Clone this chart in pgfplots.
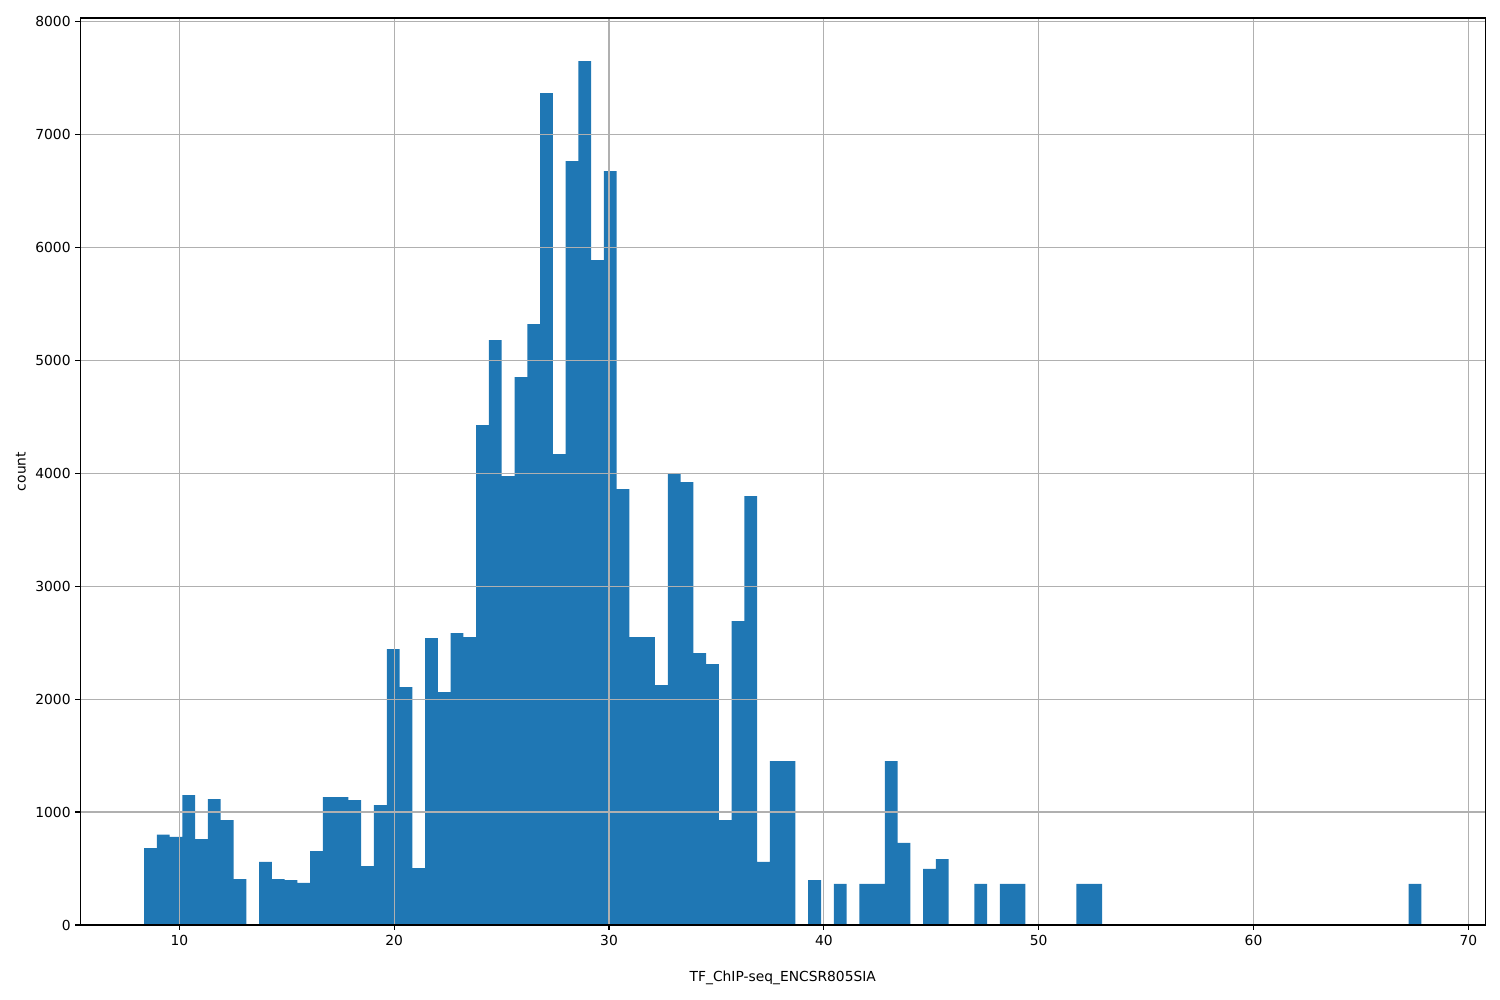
\documentclass[border=0pt]{standalone}
\usepackage{pgfplots}
\pgfplotsset{compat=1.18}
\usepackage{fontspec}
\setmainfont{DejaVu Sans}
\definecolor{mplblue}{HTML}{1F77B4}
\definecolor{gridgray}{HTML}{B0B0B0}
\begin{document}
\begin{tikzpicture}
\path[use as bounding box] (0,0) rectangle (15in,10in);
\begin{axis}[
  at={(0.803in,0.75in)}, anchor=south west,
  scale only axis, width=14.05in, height=9.07in,
  xmin=5.39, xmax=70.79, ymin=0, ymax=8029,
  axis on top,
  xtick={10,20,...,70}, ytick={0,1000,...,8000},
  grid=major, major grid style={gridgray, line width=0.8pt},
  axis line style={line width=0.8pt, black},
  tick style={black, line width=0.8pt},
  major tick length=3.5pt,
  tick align=outside, xtick pos=bottom, ytick pos=left,
  tick label style={font=\fontsize{10}{12}\selectfont},
  label style={font=\fontsize{10}{12}\selectfont},
  xlabel style={yshift=-12pt},
  /pgf/number format/assume math mode=true,
  /pgf/number format/1000 sep={},
  scaled y ticks=false,
  xlabel={TF\_ChIP-seq\_ENCSR805SIA},
  ylabel={count},
]
\addplot[ybar interval, fill=mplblue, draw=none] coordinates {
(8.360,680) (8.955,800) (9.549,779) (10.144,1150) (10.738,761)
(11.333,1115) (11.927,929) (12.522,407) (13.116,0) (13.711,558)
(14.305,407) (14.900,398) (15.494,372) (16.089,655) (16.683,1133)
(17.278,1133) (17.872,1106) (18.467,522) (19.061,1062) (19.656,2442)
(20.250,2106) (20.845,504) (21.439,2540) (22.034,2062) (22.628,2584)
(23.223,2549) (23.817,4425) (24.412,5177) (25.006,3973) (25.601,4850)
(26.195,5319) (26.790,7363) (27.384,4168) (27.979,6761) (28.573,7646)
(29.168,5885) (29.762,6673) (30.357,3858) (30.951,2549) (31.546,2549)
(32.140,2124) (32.735,3991) (33.329,3920) (33.924,2407) (34.518,2310)
(35.113,929) (35.707,2690) (36.302,3796) (36.896,558) (37.491,1451)
(38.085,1451) (38.680,0) (39.274,398) (39.869,0) (40.463,363)
(41.058,0) (41.652,363) (42.247,363) (42.841,1451) (43.436,726)
(44.030,0) (44.625,496) (45.219,584) (45.814,0) (46.408,0)
(47.003,363) (47.597,0) (48.192,363) (48.786,363) (49.381,0)
(49.975,0) (50.570,0) (51.164,0) (51.759,363) (52.353,363)
(52.948,0) (67.216,363) (67.810,363)
};
\end{axis}
\end{tikzpicture}
\end{document}
